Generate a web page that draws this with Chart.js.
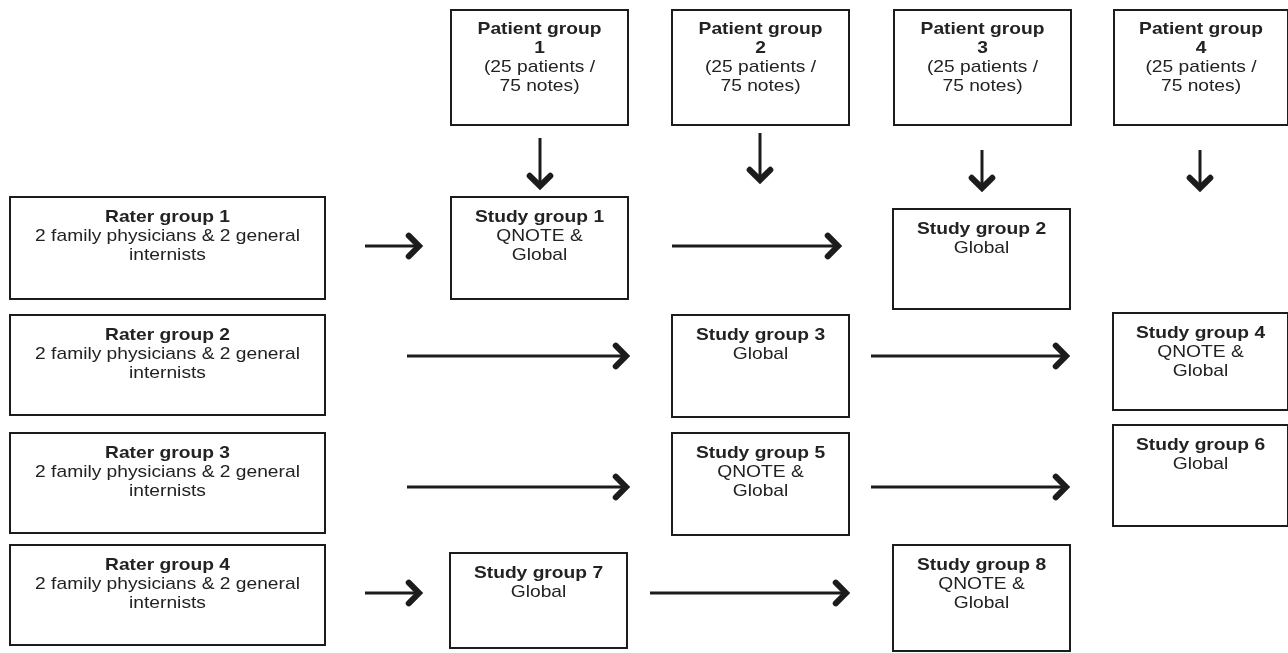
<!DOCTYPE html>
<html>
<head>
<meta charset="utf-8">
<script src="https://cdn.jsdelivr.net/npm/chart.js@4.4.1/dist/chart.umd.min.js"></script>
<style>
  html, body { margin: 0; padding: 0; background: #fff; }
  #wrap { width: 1288px; height: 653px; position: relative; }
</style>
</head>
<body>
<div id="wrap"><canvas id="flow"></canvas></div>
<script>
// flowchart content
const patientTitles = [["Patient group", "1"], ["Patient group", "2"], ["Patient group", "3"], ["Patient group", "4"]];
const patientDetail = ["(25 patients /", "75 notes)"];
const raterTitles = ["Rater group 1", "Rater group 2", "Rater group 3", "Rater group 4"];
const raterDetail = ["2 family physicians & 2 general", "internists"];
const studyTitles = ["Study group 1", "Study group 2", "Study group 3", "Study group 4",
  "Study group 5", "Study group 6", "Study group 7", "Study group 8"];
const studyDetail = [["QNOTE &", "Global"], ["Global"], ["Global"], ["QNOTE &", "Global"],
  ["QNOTE &", "Global"], ["Global"], ["Global"], ["QNOTE &", "Global"]];

// layout in axis units (x: 0..1288, y: 0..653 top-down)
const patientBoxes = [[451, 10, 177, 115], [672, 10, 177, 115], [894, 10, 177, 115], [1114, 10, 174, 115]];
const raterBoxes = [[10, 197, 315, 102], [10, 315, 315, 100], [10, 433, 315, 100], [10, 545, 315, 100]];
const studyBoxes = [[451, 197, 177, 102], [893, 209, 177, 100], [672, 315, 177, 102], [1113, 313, 175, 97],
  [672, 433, 177, 102], [1113, 425, 175, 101], [450, 553, 177, 95], [893, 545, 177, 106]];
const downArrows = [[540, 138, 188], [760, 133, 182], [982, 150, 190], [1200, 150, 190]];
const rightArrows = [[365, 421, 246], [672, 840, 246], [407, 628, 356], [871, 1068, 356],
  [407, 628, 487], [871, 1068, 487], [365, 421, 593], [650, 848, 593]];

const FONT = "Arial, 'Liberation Sans', sans-serif";
const INK = "#1c1c1c";
const STRETCH = 1.13;

function drawBox(ctx, xs, ys, box, lines, boldCount, lineH, firstOff) {
  const x = xs.getPixelForValue(box[0]);
  const y = ys.getPixelForValue(box[1]);
  const w = xs.getPixelForValue(box[0] + box[2]) - x;
  const h = ys.getPixelForValue(box[1] + box[3]) - y;
  ctx.strokeStyle = INK;
  ctx.lineWidth = 2;
  ctx.strokeRect(x, y, w, h);
  ctx.fillStyle = "#222";
  ctx.textAlign = "center";
  ctx.textBaseline = "middle";
  lines.forEach((t, i) => {
    ctx.font = (i < boldCount ? "bold " : "") + "17px " + FONT;
    ctx.save();
    ctx.translate(x + w / 2, y + firstOff + i * lineH);
    ctx.scale(STRETCH, 1);
    ctx.fillText(t, 0, 0);
    ctx.restore();
  });
}

function drawArrow(ctx, x1, y1, x2, y2) {
  const ang = Math.atan2(y2 - y1, x2 - x1);
  const head = 16, spread = 0.7;
  ctx.strokeStyle = INK;
  ctx.lineWidth = 3;
  ctx.lineCap = "butt";
  ctx.beginPath();
  ctx.moveTo(x1, y1);
  ctx.lineTo(x2 - Math.cos(ang) * 4, y2 - Math.sin(ang) * 4);
  ctx.stroke();
  ctx.lineWidth = 6;
  ctx.lineJoin = "miter";
  ctx.lineCap = "round";
  ctx.beginPath();
  ctx.moveTo(x2 - head * Math.cos(ang - spread), y2 - head * Math.sin(ang - spread));
  ctx.lineTo(x2 - Math.cos(ang) * 2, y2 - Math.sin(ang) * 2);
  ctx.lineTo(x2 - head * Math.cos(ang + spread), y2 - head * Math.sin(ang + spread));
  ctx.stroke();
}

const flowPlugin = {
  id: "flow",
  afterDraw(chart) {
    const ctx = chart.ctx;
    const xs = chart.scales.x, ys = chart.scales.y;
    ctx.save();
    patientBoxes.forEach((b, i) => {
      drawBox(ctx, xs, ys, b, patientTitles[i].concat(patientDetail), 2, 19, 19);
    });
    raterBoxes.forEach((b, i) => {
      drawBox(ctx, xs, ys, b, [raterTitles[i]].concat(raterDetail), 1, 19, 20);
    });
    studyBoxes.forEach((b, i) => {
      drawBox(ctx, xs, ys, b, [studyTitles[i]].concat(studyDetail[i]), 1, 19, 20);
    });
    downArrows.forEach(a => {
      drawArrow(ctx, xs.getPixelForValue(a[0]), ys.getPixelForValue(a[1]),
        xs.getPixelForValue(a[0]), ys.getPixelForValue(a[2]));
    });
    rightArrows.forEach(a => {
      drawArrow(ctx, xs.getPixelForValue(a[0]), ys.getPixelForValue(a[2]),
        xs.getPixelForValue(a[1]), ys.getPixelForValue(a[2]));
    });
    ctx.restore();
  }
};

new Chart(document.getElementById("flow"), {
  type: "scatter",
  data: { datasets: [{ data: [], pointRadius: 0 }] },
  options: {
    responsive: true,
    maintainAspectRatio: false,
    animation: false,
    layout: { padding: 0 },
    plugins: { legend: { display: false }, tooltip: { enabled: false } },
    scales: {
      x: { type: "linear", min: 0, max: 1288, display: false },
      y: { type: "linear", min: 0, max: 653, reverse: true, display: false }
    }
  },
  plugins: [flowPlugin]
});
</script>
</body>
</html>
